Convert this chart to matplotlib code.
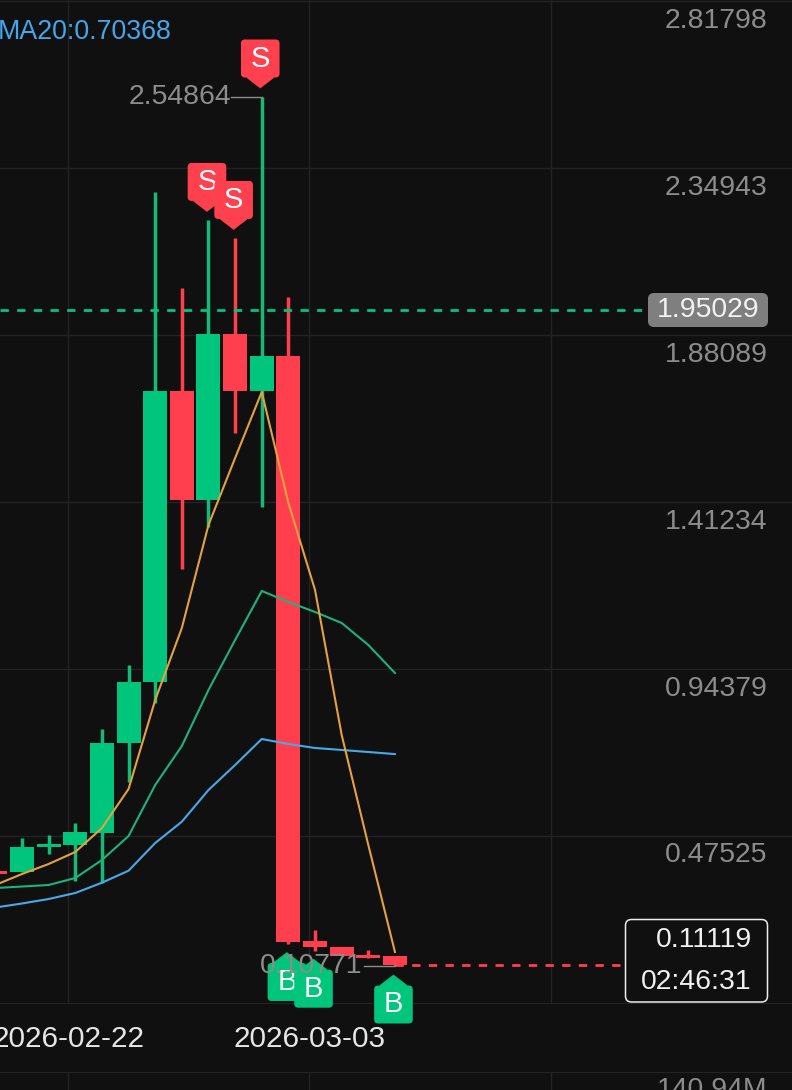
import numpy as np
import matplotlib
matplotlib.use("Agg")
import matplotlib.pyplot as plt
from matplotlib.patches import FancyBboxPatch, Polygon
from matplotlib.transforms import IdentityTransform

plt.rcParams['font.family'] = ['Liberation Sans', 'DejaVu Sans']

# candles, oldest first
bar_idx = list(range(-1, 15))
opens = [0.3757, 0.3737, 0.4438, 0.4486, 0.4831, 0.7356, 0.9059, 1.7225, 1.4166, 1.8823, 1.7225, 1.8206, 0.1783, 0.1624, 0.1400, 0.1372]
closes = [0.3672, 0.4430, 0.4514, 0.4859, 0.7348, 0.9059, 1.7225, 1.4166, 1.8823, 1.7225, 1.8206, 0.1765, 0.1624, 0.1372, 0.1325, 0.11119]
highs = [0.3757, 0.4674, 0.4766, 0.5112, 0.7741, 0.9536, 2.2809, 2.0115, 2.2023, 2.1518, 2.54864, 1.9862, 0.2101, 0.1624, 0.1540, 0.1372]
lows = [0.3672, 0.3737, 0.4233, 0.3484, 0.3428, 0.6262, 0.8470, 1.2229, 1.3410, 1.6046, 1.3969, 0.1709, 0.1520, 0.1372, 0.1325, 0.10771]

ma5 = [0.3364, 0.3672, 0.3953, 0.4290, 0.4963, 0.6057, 0.8554, 1.0575, 1.3465, 1.5344, 1.7196, 1.4082, 1.1641, 0.7572, 0.4486, 0.1484]
ma10 = [0.3279, 0.3321, 0.3364, 0.3560, 0.4065, 0.4738, 0.6169, 0.7264, 0.8835, 1.0238, 1.1613, 1.1304, 1.1024, 1.0715, 1.0098, 0.9312]
ma20 = [0.2732, 0.2845, 0.2971, 0.3139, 0.3428, 0.3765, 0.4542, 0.5140, 0.6029, 0.6731, 0.7460, 0.7320, 0.7208, 0.7152, 0.7095, 0.70368]

price_ticks = [0.47525, 0.94379, 1.41234, 1.88089, 2.34943, 2.81798]
price_labels = ['0.47525', '0.94379', '1.41234', '1.88089', '2.34943', '2.81798']
date_pos = [1.745, 10.792, 19.84]
date_labels = ['2026-02-22', '2026-03-03', '']

sell_bars = [7, 8, 9]
buy_bars = [10, 11, 14]
last_close = 0.11119
mark_price = 1.95029
countdown = '02:46:31'
vol_label = '140.94M'

BG = '#101011'
GRID = '#232325'
UP = '#00C57C'
UP_WICK = '#14BA78'
DOWN = '#FF3F4D'
TAG_RED = '#FF404E'
GRAY = '#8C8C8C'
W, H = 792, 1090
FS = 20.4

fig = plt.figure(figsize=(W / 100, H / 100), dpi=100, facecolor=BG)
ax = fig.add_axes([0, (H - 1002.5) / H, 1, 1002.5 / H], facecolor=BG)
vol = fig.add_axes([0, 0, 1, (H - 1072) / H], facecolor=BG)

step = 26.64
xlim = (-22 / step, (W - 22) / step)
px_price = (0.47525 - 0.00670) / (2 * 83.5)
for a in (ax, vol):
    a.set_xlim(xlim)
    a.set_xticks(date_pos)
    a.grid(axis='x', color=GRID, lw=1)
    a.set_axisbelow(True)
    for s in a.spines.values():
        s.set_visible(False)
ax.set_ylim(0.00670, 0.47525 + 835.5 * px_price)
ax.set_yticks(price_ticks)
ax.set_yticklabels([])
ax.grid(axis='y', color=GRID, lw=1)
ax.spines['bottom'].set_visible(True)
ax.spines['bottom'].set_color(GRID)
ax.tick_params(length=0)
ax.set_xticklabels(date_labels, fontsize=21.4, color='#E6E6E6')
ax.tick_params(axis='x', pad=16)
vol.set_ylim(0, 1)
vol.set_yticks([])
vol.set_xticklabels([])
vol.tick_params(length=0)
vol.spines['top'].set_visible(True)
vol.spines['top'].set_color(GRID)


def px_x(px):
    return px / W


def right_label(a, price, text, dy, color=GRAY, x=767.5, size=FS):
    a.annotate(text, (px_x(x), price), xycoords=('figure fraction', 'data'),
               xytext=(0, -dy * 0.72), textcoords='offset points',
               ha='right', va='center', fontsize=size, color=color, zorder=20,
               annotation_clip=False)


for p, lab in zip(price_ticks, price_labels):
    right_label(ax, p, lab, 20)

vol.text(px_x(767.5), 0, vol_label, transform=vol.transAxes, ha='right', va='center',
         fontsize=FS, color=GRAY, clip_on=True)

# candles
for i, o, c, h, l in zip(bar_idx, opens, closes, highs, lows):
    up = c >= o
    ax.vlines(i, l, h, color=UP_WICK if up else DOWN, lw=2.5, zorder=3)
    ax.bar(i, abs(c - o), bottom=min(o, c), width=0.9, color=UP if up else DOWN, zorder=3)

# moving averages sit over the candles
ax.plot(bar_idx, ma20, color='#4AA8E8', lw=1.5, zorder=4)
ax.plot(bar_idx, ma10, color='#1FB27A', lw=1.5, zorder=4)
ax.plot(bar_idx, ma5, color='#E3A23E', lw=1.5, zorder=4)

ax.text(px_x(172), 1 - 32 / 1002.5, 'MA20:%.5f' % ma20[-1], transform=ax.transAxes,
        ha='right', va='center', fontsize=19.3, color='#45A6EA')


def add_px_patch(patch):
    patch.set_transform(IdentityTransform())
    patch.set_clip_on(False)
    ax.add_patch(patch)


# last price lines
ax.plot([xlim[0], (648 - 22) / step], [mark_price] * 2, color=UP, lw=2, dashes=(3, 3), zorder=5)
ax.plot([14, (625 - 22) / step], [last_close] * 2, color=DOWN, lw=2, dashes=(3, 3), zorder=2)

add_px_patch(FancyBboxPatch((648, H - 327), 120, 34, boxstyle='round,pad=0,rounding_size=6',
                            fc='#7F7F7F', ec='none', zorder=7))
ax.text(px_x(708), mark_price, '%.5f' % mark_price, transform=ax.get_yaxis_transform(),
        ha='center', va='center', fontsize=FS, color='#F2F2F2', zorder=8)

# countdown box
add_px_patch(FancyBboxPatch((625.5, H - 1002), 142, 82.5, boxstyle='round,pad=0,rounding_size=6',
                            fc=BG, ec='#EDEDED', lw=1.1, zorder=9))
ax.text(px_x(752), 1 - 940 / 1002.5, '%.5f' % last_close, transform=ax.transAxes, ha='right',
        va='center', fontsize=FS, color='#EFEFEF', zorder=10)
ax.text(px_x(752), 1 - 982 / 1002.5, countdown, transform=ax.transAxes, ha='right',
        va='center', fontsize=FS, color='#EFEFEF', zorder=10)


# S / B flags, tip a little off the wick end
def tag(i, price, letter, color, z):
    tx, ty = ax.transData.transform((i, price))
    tx -= 1.5
    sign = 1 if letter == 'S' else -1
    ty += sign * 9
    y_near = ty + sign * 10
    y_far = ty + sign * 48
    add_px_patch(Polygon([(tx - 13, y_near), (tx, ty), (tx + 13, y_near)], fc=color, ec=color, lw=1, zorder=z))
    add_px_patch(FancyBboxPatch((tx - 19.3, min(y_near, y_far)), 38.6, 38,
                                boxstyle='round,pad=0,rounding_size=4', fc=color, ec='none', zorder=z))
    ax.text(tx, (y_near + y_far) / 2, letter, transform=IdentityTransform(), ha='center', va='center',
            fontsize=21, color='white', zorder=z + 0.1, clip_on=False)


for n, i in enumerate(sell_bars):
    pos = bar_idx.index(i)
    tag(i, highs[pos], 'S', TAG_RED, 10 + n)
for n, i in enumerate(buy_bars):
    pos = bar_idx.index(i)
    tag(i, lows[pos], 'B', UP, 10 + n)

# high / low callouts
hi = max(highs)
lo = min(lows)
ax.plot([(231 - 22) / step, 9], [hi, hi], color=GRAY, lw=1, zorder=6)
ax.text((231 - 22) / step, hi, '%.5f' % hi, ha='right', va='center', fontsize=FS, color=GRAY, zorder=15)
ax.plot([(364 - 22) / step, 14], [lo, lo], color=GRAY, lw=1, zorder=15)
ax.text((362 - 22) / step, lo, '%.5f' % lo, ha='right', va='center', fontsize=FS, color=GRAY, zorder=15)

fig.savefig('out.png', dpi=100, facecolor=BG)
